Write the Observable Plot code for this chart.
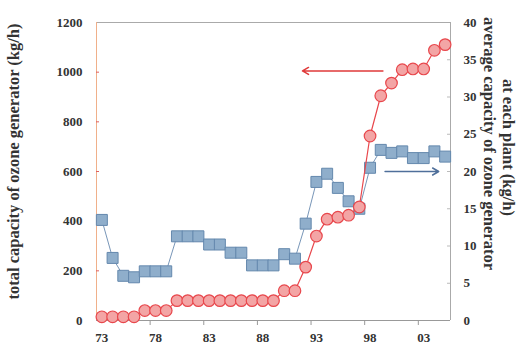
<!DOCTYPE html>
<html><head><meta charset="utf-8">
<script src="https://cdn.jsdelivr.net/npm/d3@7"></script>
<script src="https://cdn.jsdelivr.net/npm/@observablehq/plot@0.6"></script>
<style>body{margin:0;background:#fff} svg text{font-family:"Liberation Serif","DejaVu Serif Condensed",serif !important;}</style>
</head><body><div id="chart"></div>
<script>
const years = [73,74,75,76,77,78,79,80,81,82,83,84,85,86,87,88,89,90,91,92,93,94,95,96,97,98,99,100,101,102,103,104,105];
const totalCapacity = [15,15,15,15,40,40,40,80,80,80,80,80,80,80,80,80,80,120,120,215,340,408,416,424,457,743,905,956,1010,1013,1013,1088,1111];
const avgCapacity = [13.5,8.4,6.0,5.8,6.6,6.6,6.6,11.3,11.3,11.3,10.2,10.2,9.1,9.1,7.4,7.4,7.4,8.9,8.3,13.0,18.6,19.7,17.8,16.0,15.0,20.5,22.9,22.5,22.7,21.8,21.8,22.7,22.0];
const yearTickPositions = [73,78,83,88,93,98,103];
const yearTickLabels = ["73","78","83","88","93","98","03"];
const leftTicks = [0,200,400,600,800,1000,1200];
const rightTicks = [0,5,10,15,20,25,30,35,40];
const leftTitle = "total capacity of ozone generator (kg/h)";
const rightTitle1 = "average capacity of ozone generator";
const rightTitle2 = "at each plant (kg/h)";
// annotation arrows: [x from, x to, y in left-axis units, colour]
const arrowFrom = [99.2, 99.4];
const arrowTo = [91.7, 104.4];
const arrowY = [1005, 600];
const arrowColor = ["#e03a3a", "#4f6f9a"];

const ratio = 1200 / 40;
const data = years.map((y, i) => ({year: y, total: totalCapacity[i], avg: avgCapacity[i]}));
const arrows = arrowFrom.map((x, i) => ({x1: x, x2: arrowTo[i], y: arrowY[i], c: arrowColor[i]}));
const boundaries = yearTickPositions.slice(1).map(d => d - 0.5);

const chart = Plot.plot({
  width: 527, height: 350,
  marginLeft: 96, marginRight: 77, marginTop: 22, marginBottom: 30,
  x: {domain: [72.5, 105.5]},
  y: {domain: [0, 1200]},
  style: {fontFamily: "Liberation Serif, DejaVu Serif Condensed, serif", fontWeight: "bold", fontSize: "13px", color: "#333", background: "#fff"},
  marks: [
    Plot.ruleY([0], {stroke: "#999"}),
    Plot.ruleY([1200], {stroke: "#aaa"}),
    Plot.ruleX([72.5], {stroke: "#f0b08a"}),
    Plot.ruleX([105.5], {stroke: "#aaa"}),
    Plot.axisY({anchor: "left", ticks: leftTicks, tickFormat: d => String(d), tickSize: 0, tickPadding: 14, label: null, fontSize: 13}),
    Plot.tickY(leftTicks.slice(1, -1), {y: d => d, stroke: "#e06060", insetRight: 351}),
    Plot.axisY({anchor: "right", ticks: rightTicks.map(d => d * ratio), tickFormat: d => String(Math.round(d / ratio)), tickSize: 0, tickPadding: 13, label: null, fontSize: 13}),
    Plot.tickY(rightTicks.slice(1, -1).map(d => d * ratio), {y: d => d, stroke: "#bbb", insetLeft: 351}),
    Plot.axisX({ticks: yearTickPositions, tickFormat: d => yearTickLabels[yearTickPositions.indexOf(d)], tickSize: 0, tickPadding: 12, label: null, fontSize: 13}),
    Plot.axisX({ticks: boundaries, tickFormat: () => "", tickSize: 5, stroke: "#999", label: null}),
    Plot.line(data, {x: "year", y: d => d.avg * ratio, stroke: "#7896b8", strokeWidth: 1}),
    Plot.dot(data, {x: "year", y: d => d.avg * ratio, symbol: "square", r: 6.2, fill: "#8faecb", stroke: "#6488ad", strokeWidth: 1}),
    Plot.line(data, {x: "year", y: "total", stroke: "#e8474c", strokeWidth: 1.2}),
    Plot.dot(data, {x: "year", y: "total", r: 5.8, fill: "#f3a5a5", stroke: "#e8474c", strokeWidth: 1.2}),
    Plot.arrow(arrows, {x1: "x1", x2: "x2", y1: "y", y2: "y", stroke: "c", strokeWidth: 1.5, headLength: 7, bend: 0}),
    Plot.text([leftTitle], {frameAnchor: "left", textAnchor: "middle", dx: -83, dy: -10, rotate: -90, fontSize: 16.5, fontWeight: "bold", fill: "#333"}),
    Plot.text([rightTitle1], {frameAnchor: "right", textAnchor: "middle", dx: 39, dy: -28, rotate: 90, fontSize: 16.5, fontWeight: "bold", fill: "#333"}),
    Plot.text([rightTitle2], {frameAnchor: "right", textAnchor: "middle", dx: 58, dy: -24, rotate: 90, fontSize: 16.5, fontWeight: "bold", fill: "#333"})
  ]
});
document.getElementById("chart").appendChild(chart);
</script>
</body></html>
